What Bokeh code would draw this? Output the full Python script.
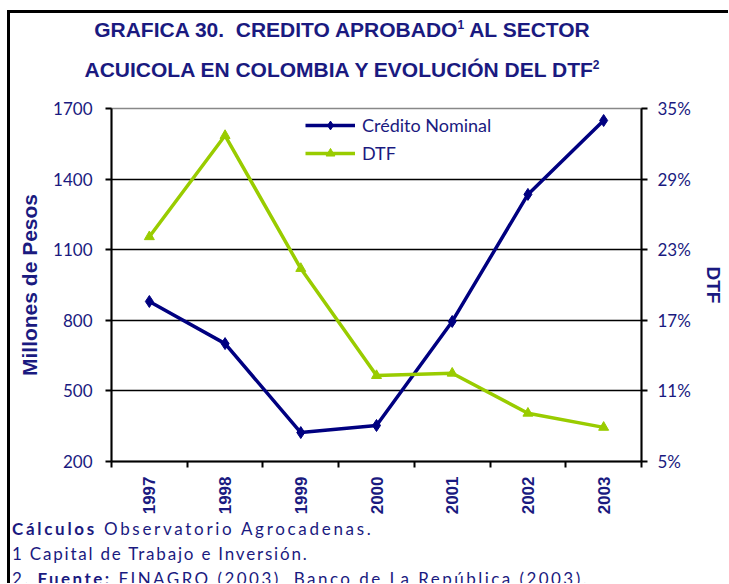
import math
from bokeh.plotting import figure
from bokeh.models import (Range1d, LinearAxis, FixedTicker, Legend, LegendItem, Div)
from bokeh.layouts import column
from bokeh.embed import file_html
from bokeh.resources import INLINE

years = ["1997", "1998", "1999", "2000", "2001", "2002", "2003"]
credito = [880, 701, 323, 353, 795, 1335, 1649]
dtf = [24.1, 32.7, 21.4, 12.3, 12.5, 9.1, 7.9]
left_ticks = [200, 500, 800, 1100, 1400, 1700]
right_ticks = [5, 11, 17, 23, 29, 35]

NAVY = "#1a1a80"
CRED = "#000080"
GREEN = "#99cc00"

xs = [i + 0.5 for i in range(len(years))]

SUP = "style='font-size:12px;line-height:0'"
title_html = (
    "<div style='margin-top:-3px'>"
    f"<div>GRAFICA 30.&nbsp; CREDITO APROBADO<sup {SUP}>1</sup> AL SECTOR</div>"
    f"<div>ACUICOLA EN COLOMBIA Y EVOLUCIÓN DEL DTF<sup {SUP}>2</sup></div>"
    "</div>"
)
title = Div(text=title_html, width=718, height=80, margin=(0, 0, 0, 0),
            styles={"font-family": "Liberation Sans", "font-weight": "bold",
                    "font-size": "21px", "line-height": "40px", "color": NAVY,
                    "text-align": "center", "padding-right": "54px", "box-sizing": "border-box",
                    "overflow": "visible"})

FW, FH = 530, 353
p = figure(frame_width=FW, frame_height=FH, output_backend="svg", toolbar_location=None,
           x_range=Range1d(0, len(years)), y_range=Range1d(200, 1700),
           min_border_left=101, min_border_right=87, min_border_top=15, min_border_bottom=55,
           x_axis_location=None, y_axis_location=None)
p.outline_line_color = "#888888"
p.outline_line_width = 1.5
p.background_fill_color = "white"
p.border_fill_color = "white"
p.xgrid.visible = False
p.ygrid.ticker = FixedTicker(ticks=left_ticks)
p.ygrid.grid_line_color = "black"
p.ygrid.grid_line_width = 1.5

p.extra_y_ranges = {"dtf": Range1d(5, 35)}

# axes
xaxis = LinearAxis(ticker=FixedTicker(ticks=xs, minor_ticks=list(range(len(years) + 1))),
                   major_label_overrides={x: y for x, y in zip(xs, years)})
xaxis.major_tick_line_color = None
xaxis.minor_tick_in = 0
xaxis.minor_tick_out = 6
xaxis.minor_tick_line_color = "black"
xaxis.minor_tick_line_width = 2
xaxis.axis_line_color = "black"
xaxis.axis_line_width = 2
xaxis.major_label_orientation = math.pi / 2
xaxis.major_label_text_font = "Liberation Sans"
xaxis.major_label_text_font_style = "bold"
xaxis.major_label_text_font_size = "17px"
xaxis.major_label_text_color = NAVY
xaxis.major_label_standoff = 9
p.add_layout(xaxis, "below")

yaxis = LinearAxis(ticker=FixedTicker(ticks=left_ticks), axis_label="Millones de Pesos")
yaxis.axis_line_width = 2
yaxis.major_tick_line_width = 2
yaxis.major_tick_in = 0
yaxis.major_tick_out = 6
yaxis.minor_tick_line_color = None
yaxis.major_label_text_font = "Lato"
yaxis.major_label_text_font_size = "17px"
yaxis.major_label_text_color = NAVY
yaxis.major_label_standoff = 13
yaxis.axis_label_text_font = "Liberation Sans"
yaxis.axis_label_text_font_style = "bold"
yaxis.axis_label_text_font_size = "21px"
yaxis.axis_label_text_color = NAVY
yaxis.axis_label_standoff = 9
p.add_layout(yaxis, "left")

raxis = LinearAxis(y_range_name="dtf", ticker=FixedTicker(ticks=right_ticks),
                   major_label_overrides={t: f"{t}%" for t in right_ticks}, axis_label="DTF")
raxis.axis_line_width = 2
raxis.major_tick_line_width = 2
raxis.major_tick_in = 0
raxis.major_tick_out = 6
raxis.minor_tick_line_color = None
raxis.major_label_text_font = "Lato"
raxis.major_label_text_font_size = "17px"
raxis.major_label_text_color = NAVY
raxis.major_label_standoff = 10
raxis.axis_label_text_font = "Liberation Sans"
raxis.axis_label_text_font_style = "bold"
raxis.axis_label_text_font_size = "19px"
raxis.axis_label_text_color = NAVY
raxis.axis_label_standoff = 9
p.add_layout(raxis, "right")

# series
l1 = p.line(xs, credito, line_color=CRED, line_width=3.5)
s1 = p.scatter(xs, credito, marker="diamond", size=12, fill_color=CRED, line_color=CRED)
l2 = p.line(xs, dtf, line_color=GREEN, line_width=3.5, y_range_name="dtf")
s2 = p.scatter(xs, dtf, marker="triangle", size=10, fill_color=GREEN, line_color=GREEN,
               y_range_name="dtf")

legend = Legend(items=[LegendItem(label="Crédito Nominal", renderers=[l1, s1]),
                       LegendItem(label="DTF", renderers=[l2, s2])],
                location=(194, 297), orientation="vertical")
legend.background_fill_alpha = 0
legend.border_line_color = None
legend.label_text_font = "Lato"
legend.label_text_font_size = "18px"
legend.label_text_color = NAVY
legend.glyph_width = 50
legend.glyph_height = 22
legend.spacing = 6
legend.label_standoff = 7
legend.padding = 0
legend.margin = 0
p.add_layout(legend)

notes_html = (
    "<div style='letter-spacing:2.7px'><b>Cálculos</b> Observatorio Agrocadenas.</div>"
    "<div style='letter-spacing:1.8px'>1 Capital de Trabajo e Inversión.</div>"
    "<div style='letter-spacing:2.45px'>2. <b>Fuente:</b> FINAGRO (2003), Banco de La República (2003).</div>"
)
notes = Div(text=notes_html, width=718, height=67, margin=(0, 0, 0, 0),
            styles={"font-family": "Lato", "font-size": "17px", "line-height": "25px",
                    "color": NAVY, "padding-left": "2px",
                    "overflow": "hidden", "margin": "-1px 0 0 0"})

layout = column(title, p, notes, spacing=0,
                styles={"margin-left": "7px", "margin-top": "10px",
                        "border-left": "3px solid black", "border-top": "3px solid black",
                        "background-color": "white"})

open("out.html", "w").write(file_html(layout, INLINE))
